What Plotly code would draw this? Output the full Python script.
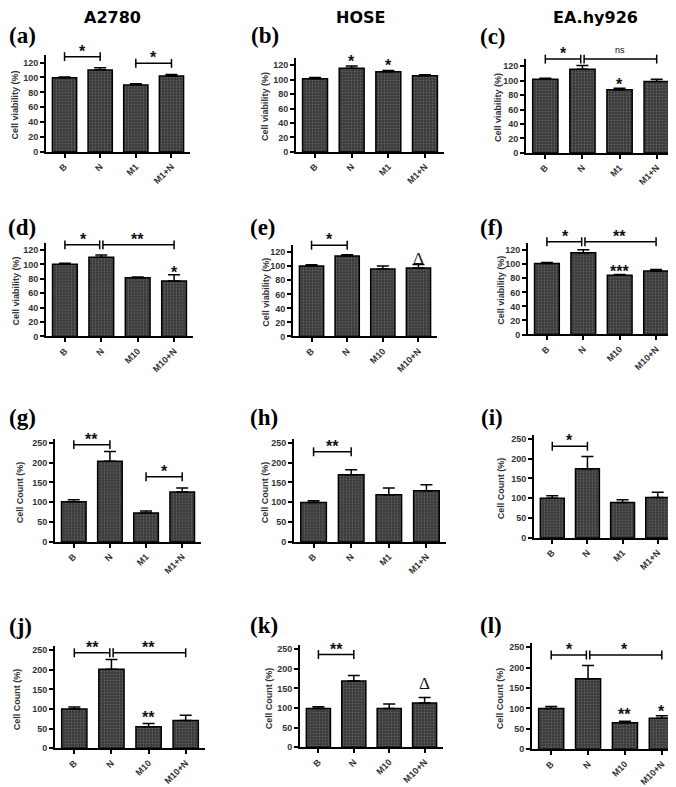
import plotly.graph_objects as go

W, H = 676, 787

# ---------------- data ----------------
cats_m1 = ["B", "N", "M1", "M1+N"]
cats_m10 = ["B", "N", "M10", "M10+N"]
viab_ticks = [0, 20, 40, 60, 80, 100, 120]
count_ticks = [0, 50, 100, 150, 200, 250]
viab_title = "Cell viability (%)"
count_title = "Cell Count (%)"
col_titles = ["A2780", "HOSE", "EA.hy926"]

a_vals = [99.5, 110, 90, 102];   a_err = [1, 3, 1.5, 2]
b_vals = [101.5, 116, 111, 105.5]; b_err = [1.5, 3, 2, 1.5]
c_vals = [102, 116, 87.5, 99];   c_err = [1.5, 5, 2, 3]
d_vals = [100, 110, 81.5, 77];   d_err = [1.5, 3, 1, 8.5]
e_vals = [100.5, 114.5, 96, 97.5]; e_err = [1.5, 2, 4.5, 5]
f_vals = [101, 116.5, 84.5, 90.5]; f_err = [1.5, 4, 1, 2]
g_vals = [101, 203, 73, 126];    g_err = [5, 25, 5, 10]
h_vals = [99, 169, 119, 129];    h_err = [4.5, 13, 17, 15]
i_vals = [100, 174, 89, 102];    i_err = [6, 31, 7, 13]
j_vals = [100, 201, 55, 71];     j_err = [5, 25, 8, 13]
k_vals = [99, 169, 99, 113];     k_err = [4, 14, 11, 14]
l_vals = [100, 173, 65, 76];     l_err = [5, 32, 4, 6]

# significance brackets: (panel, from, to, level, label)
brackets = [
    ("a", 0, 1, 128, "*"), ("a", 2, 3, 119, "*"),
    ("c", 0, 1, 130, "*"), ("c", 1, 3, 130, "ns"),
    ("d", 0, 1, 127, "*"), ("d", 1, 3, 127, "**"),
    ("e", 0, 1, 130, "*"),
    ("f", 0, 1, 132, "*"), ("f", 1, 3, 132, "**"),
    ("g", 0, 1, 245, "**"), ("g", 2, 3, 164, "*"),
    ("h", 0, 1, 227, "**"),
    ("i", 0, 1, 231, "*"),
    ("j", 0, 1, 243, "**"), ("j", 1, 3, 243, "**"),
    ("k", 0, 1, 236, "**"),
    ("l", 0, 1, 231, "*"), ("l", 1, 3, 231, "*"),
]
# marks above single bars: (panel, index, y-centre, label)
bar_marks = [
    ("b", 1, 130, "*"), ("b", 2, 124.6, "*"),
    ("c", 2, 100, "*"),
    ("d", 3, 94, "*"),
    ("e", 3, 110.6, "Δ"),
    ("f", 2, 94.6, "***"),
    ("j", 2, 88, "**"),
    ("k", 3, 163.6, "Δ"),
    ("l", 2, 93.3, "**"), ("l", 3, 102, "*"),
]

panels = [
    ("a", cats_m1, a_vals, a_err, "viab"), ("b", cats_m1, b_vals, b_err, "viab"),
    ("c", cats_m1, c_vals, c_err, "viab"), ("d", cats_m10, d_vals, d_err, "viab"),
    ("e", cats_m10, e_vals, e_err, "viab"), ("f", cats_m10, f_vals, f_err, "viab"),
    ("g", cats_m1, g_vals, g_err, "count"), ("h", cats_m1, h_vals, h_err, "count"),
    ("i", cats_m1, i_vals, i_err, "count"), ("j", cats_m10, j_vals, j_err, "count"),
    ("k", cats_m10, k_vals, k_err, "count"), ("l", cats_m10, l_vals, l_err, "count"),
]

# ---------------- layout (pixels) ----------------
# left, right, top, bottom of plot area; y-title x; panel-letter centre
boxes = {
    "a": (38, 182, 46.5, 144, 7, (14, 27)),
    "b": (288, 436, 49.5, 144, 257, (257, 27)),
    "c": (518, 668, 50.5, 145, 490, (485, 28)),
    "d": (38, 185, 235.5, 330, 8, (14, 220)),
    "e": (285, 429, 238, 330, 258, (255, 220)),
    "f": (520, 667, 236, 328, 493, (483, 220)),
    "g": (47, 193, 433, 537, 12, (14, 412)),
    "h": (286, 438, 433, 537, 257, (256, 412)),
    "i": (526, 668, 429, 533, 493, (484, 412)),
    "j": (47, 197, 642, 745, 9, (12, 622)),
    "k": (292, 435, 641, 744, 261, (256, 621)),
    "l": (524, 673, 639, 746, 492, (483, 621)),
}
title_pos = [(105, 9), (352, 9), (587, 9)]

XR = [-0.52, 3.52]
YMAX = {"viab": 130, "count": 260}
SANS = "DejaVu Sans, Liberation Sans, Arial"
SERIF = "Liberation Serif, Times New Roman"

def px(x):
    return x / W

def py(y):
    return 1 - y / H

fig = go.Figure()
layout = dict(
    width=W, height=H, margin=dict(l=0, r=0, t=0, b=0),
    paper_bgcolor="white", plot_bgcolor="white", showlegend=False,
    font=dict(family=SANS, color="#222"),
)
shapes, annotations = [], []
axid = {}

for n, (key, cats, vals, err, kind) in enumerate(panels, start=1):
    sfx = "" if n == 1 else str(n)
    axid[key] = (n, sfx, kind)
    left, right, top, bottom, ytx, lab = boxes[key]
    xs = list(range(len(cats)))
    fig.add_trace(go.Bar(
        x=xs, y=vals, width=0.68,
        xaxis="x" + sfx, yaxis="y" + sfx,
        marker=dict(color="#383838", line=dict(color="black", width=1.5),
                    pattern=dict(shape=".", fgcolor="#8c8c8c", size=3,
                                 solidity=0.3, fillmode="overlay")),
        error_y=dict(type="data", array=err, arrayminus=[0] * len(err),
                     symmetric=False, color="black", thickness=1.5, width=6),
    ))
    ticks = viab_ticks if kind == "viab" else count_ticks
    tf = dict(size=9, color="#333", family="Liberation Sans, Arial", weight="bold")
    layout["xaxis" + sfx] = dict(
        domain=[px(left), px(right)], range=XR, anchor="y" + sfx,
        tickvals=xs, ticktext=cats, tickangle=-45,
        showline=True, linecolor="black", linewidth=2,
        ticks="outside", ticklen=4, tickwidth=1.5, tickcolor="black",
        showgrid=False, zeroline=False, tickfont=tf,
    )
    layout["yaxis" + sfx] = dict(
        domain=[py(bottom), py(top)], range=[0, YMAX[kind]], anchor="x" + sfx,
        tickvals=ticks, showline=True, linecolor="black", linewidth=2,
        ticks="outside", ticklen=4, tickwidth=1.5, tickcolor="black",
        showgrid=False, zeroline=False, tickfont=tf,
    )
    annotations.append(dict(
        text=viab_title if kind == "viab" else count_title,
        xref="paper", yref="paper", x=px(ytx), y=py((top + bottom) / 2 + 2),
        textangle=-90, showarrow=False, xanchor="center", yanchor="middle",
        font=dict(size=9, color="#333", family="Liberation Sans, Arial", weight="bold"),
    ))
    annotations.append(dict(
        text="(" + key + ")", xref="paper", yref="paper",
        x=px(lab[0]), y=py(lab[1]), showarrow=False,
        xanchor="center", yanchor="middle",
        font=dict(family=SERIF, size=23, color="black", weight="bold"),
    ))

# brackets
ends = {}
for key, i0, i1, lvl, lab in brackets:
    ends.setdefault((key, lvl), []).append((i0, i1))

for key, i0, i1, lvl, lab in brackets:
    n, sfx, kind = axid[key]
    left, right, top, bottom, _, _ = boxes[key]
    ymax = YMAX[kind]
    yd = lvl / ymax
    dd = 4.5 / (bottom - top)
    others = [o for o in ends[(key, lvl)] if o != (i0, i1)]
    x0, x1 = float(i0), float(i1)
    if any(o[0] == i1 for o in others):
        x1 -= 0.045
    if any(o[1] == i0 for o in others):
        x0 += 0.045
    xr, yr = "x" + sfx, "y" + sfx + " domain"
    ln = dict(color="black", width=1.5)
    shapes.append(dict(type="line", xref=xr, yref=yr, x0=x0, x1=x1, y0=yd, y1=yd, line=ln))
    shapes.append(dict(type="line", xref=xr, yref=yr, x0=x0, x1=x0, y0=yd - dd, y1=yd + dd, line=ln))
    shapes.append(dict(type="line", xref=xr, yref=yr, x0=x1, x1=x1, y0=yd - dd, y1=yd + dd, line=ln))
    is_star = lab.startswith("*")
    annotations.append(dict(
        text=lab, xref=xr, yref=yr, x=(i0 + i1) / 2, y=yd,
        showarrow=False, xanchor="center", yanchor="bottom",
        yshift=-5 if is_star else 2,
        font=dict(size=16 if is_star else 9, color="#111",
                  family="Liberation Sans, Arial",
                  weight="bold" if is_star else "normal"),
    ))

for key, idx, yc, lab in bar_marks:
    n, sfx, kind = axid[key]
    is_star = lab.startswith("*")
    annotations.append(dict(
        text=lab, xref="x" + sfx, yref="y" + sfx + " domain", x=idx, y=yc / YMAX[kind],
        showarrow=False, xanchor="center", yanchor="middle",
        yshift=-3.5 if is_star else 0,
        font=dict(size=16 if is_star else 17, color="#111",
                  family="Liberation Sans, Arial" if is_star else SERIF,
                  weight="bold" if is_star else "normal"),
    ))

for t, (cx, cy) in zip(col_titles, title_pos):
    annotations.append(dict(
        text=t, xref="paper", yref="paper", x=px(cx), y=py(cy),
        showarrow=False, xanchor="center", yanchor="middle",
        font=dict(size=16, color="black", family=SANS, weight="bold"),
    ))

layout["shapes"] = shapes
layout["annotations"] = annotations
fig.update_layout(**layout)
fig.write_html("out.html")
